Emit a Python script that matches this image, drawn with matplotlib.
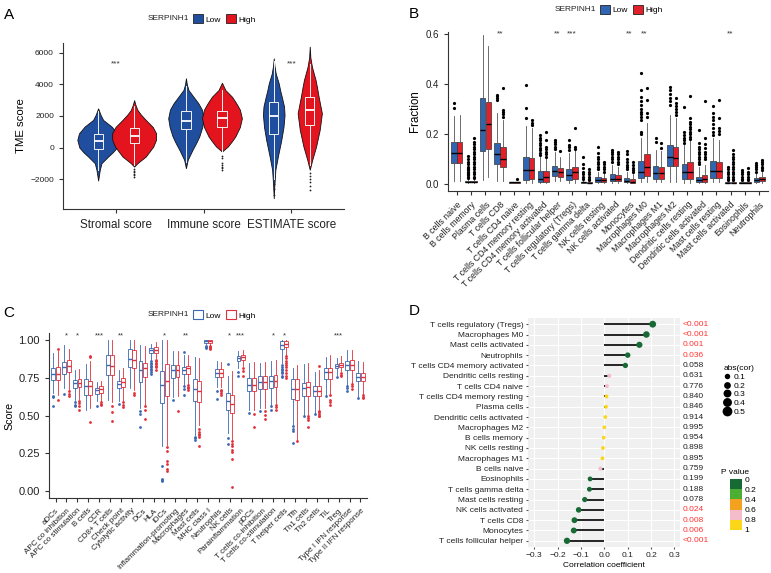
import numpy as np
import matplotlib
matplotlib.use("Agg")
import matplotlib.pyplot as plt
from matplotlib.patches import Patch
from matplotlib.lines import Line2D
from matplotlib.colors import ListedColormap, BoundaryNorm
from matplotlib.cm import ScalarMappable

plt.rcParams['font.family'] = ['Liberation Sans', 'DejaVu Sans']

# ============================================================
# DATA
# ============================================================

# --- panel A: TME scores (violin profiles + box summaries) ---
tme_cats = ['Stromal score', 'Immune score', 'ESTIMATE score']
tme_sig = ['***', '', '***']

# violin outlines: score value -> relative width
stromal_low_y = [-2080, -1400, -985, -565, -300, 0, 486, 900, 1325, 1750, 2060, 2480]
stromal_low_d = [0, 0.08, 0.16, 0.48, 0.7, 0.9, 1.0, 0.92, 0.65, 0.24, 0.12, 0]
stromal_high_y = [-1200, -985, -565, 63, 500, 908, 1300, 1750, 2100, 2380, 2700, 3000]
stromal_high_d = [0, 0.15, 0.53, 0.87, 1.0, 1.0, 0.85, 0.53, 0.3, 0.15, 0.06, 0]
immune_low_y = [-1300, -770, -140, 300, 700, 1300, 1855, 2400, 2800, 3220, 3640, 4000, 4380]
immune_low_d = [0, 0.1, 0.37, 0.58, 0.75, 0.92, 1.0, 0.9, 0.7, 0.42, 0.14, 0.05, 0]
immune_high_y = [-250, -140, 63, 400, 700, 1300, 1855, 2400, 2800, 3220, 3640, 4100]
immune_high_d = [0, 0.1, 0.29, 0.5, 0.67, 0.9, 1.0, 0.9, 0.72, 0.5, 0.17, 0]
estimate_low_y = [-3200, -2450, -1400, -565, 486, 1300, 2060, 2600, 3220, 3600, 4060, 4690, 5200, 5640]
estimate_low_d = [0, 0.05, 0.15, 0.38, 0.7, 0.9, 1.0, 0.95, 0.74, 0.6, 0.46, 0.18, 0.06, 0]
estimate_high_y = [-1400, -780, 63, 1120, 2170, 3220, 3800, 4270, 5110, 5700, 6380]
estimate_high_d = [0, 0.2, 0.52, 0.82, 1.0, 0.73, 0.6, 0.48, 0.18, 0.05, 0]

# box summaries: (whislo, q1, median, q3, whishi, outliers)
tme_low_box = [(-1400, -100, 420, 863, 2300, []),
               (-900, 1160, 1665, 2315, 3900, []),
               (-2000, 863, 2000, 2900, 5500, [-2300, -2600, -3000])]
tme_high_box = [(-1100, 270, 720, 1220, 2600, [-1350, -1450, -1550, -1650, -1750, -1830]),
                (-250, 1290, 1855, 2315, 3650, [-535, -650, -1000, -1100, -1200, -1300, -1400]),
                (-1100, 1430, 2380, 3220, 5300, [-1620, -1800, -2000, -2200, -2400, -2670])]

# --- panel B: CIBERSORT fractions ---
cells_b = ['B cells naive', 'B cells memory', 'Plasma cells', 'T cells CD8', 'T cells CD4 naive',
           'T cells CD4 memory resting', 'T cells CD4 memory activated', 'T cells follicular helper',
           'T cells regulatory (Tregs)', 'T cells gamma delta', 'NK cells resting', 'NK cells activated',
           'Monocytes', 'Macrophages M0', 'Macrophages M1', 'Macrophages M2', 'Dendritic cells resting',
           'Dendritic cells activated', 'Mast cells resting', 'Mast cells activated', 'Eosinophils',
           'Neutrophils']
sig_b = ['', '', '', '**', '', '', '', '**', '***', '', '', '', '**', '**', '', '', '', '', '', '**', '', '']

frac_low = [
    (0.013, 0.086, 0.126, 0.167, 0.274, [0.303, 0.325]),
    (0.005, 0.007, 0.009, 0.013, 0.02, [0.025, 0.03, 0.035, 0.04, 0.045, 0.05, 0.055, 0.06, 0.065, 0.07, 0.08, 0.09, 0.1, 0.114]),
    (0.016, 0.133, 0.215, 0.345, 0.595, []),
    (0.013, 0.08, 0.121, 0.165, 0.283, [0.336, 0.342, 0.35, 0.356]),
    (0.005, 0.006, 0.007, 0.008, 0.01, []),
    (0.005, 0.017, 0.056, 0.109, 0.232, [0.265, 0.303, 0.396]),
    (0.005, 0.01, 0.02, 0.054, 0.11, [0.115, 0.125, 0.135, 0.145, 0.155, 0.165, 0.175, 0.185, 0.197]),
    (0.013, 0.033, 0.054, 0.074, 0.13, [0.14, 0.15, 0.16, 0.168, 0.177]),
    (0.005, 0.015, 0.037, 0.06, 0.124, [0.137, 0.147, 0.157, 0.177]),
    (0.005, 0.006, 0.008, 0.01, 0.015, [0.02, 0.03, 0.04, 0.05, 0.065, 0.08, 0.108]),
    (0.005, 0.008, 0.016, 0.027, 0.05, [0.06, 0.07, 0.08, 0.09, 0.1, 0.11, 0.125, 0.149]),
    (0.005, 0.011, 0.021, 0.04, 0.077, [0.09, 0.1, 0.11, 0.12, 0.128, 0.137]),
    (0.005, 0.008, 0.013, 0.024, 0.05, [0.06, 0.07, 0.077, 0.09, 0.1, 0.12, 0.133]),
    (0.01, 0.024, 0.05, 0.094, 0.183, [0.2, 0.21, 0.256, 0.27, 0.28, 0.29, 0.3, 0.315, 0.33, 0.349, 0.376, 0.445]),
    (0.01, 0.021, 0.046, 0.072, 0.137, [0.167, 0.186]),
    (0.01, 0.073, 0.11, 0.157, 0.276, [0.316, 0.33, 0.345, 0.36, 0.375, 0.389]),
    (0.005, 0.021, 0.049, 0.08, 0.157, [0.165, 0.175, 0.185, 0.195, 0.21, 0.309]),
    (0.005, 0.008, 0.016, 0.03, 0.07, [0.08, 0.09, 0.1, 0.11, 0.12, 0.13, 0.14, 0.15, 0.163, 0.216]),
    (0.01, 0.024, 0.053, 0.093, 0.183, [0.197, 0.21, 0.225, 0.24, 0.255, 0.27, 0.285, 0.31]),
    (0.003, 0.004, 0.005, 0.007, 0.01, [0.015, 0.02, 0.03, 0.04, 0.05, 0.06, 0.07]),
    (0.003, 0.004, 0.005, 0.007, 0.01, [0.015, 0.02, 0.03, 0.04, 0.05, 0.057]),
    (0.005, 0.01, 0.017, 0.024, 0.045, [0.05, 0.06, 0.07, 0.077, 0.084]),
]
frac_high = [
    (0.013, 0.084, 0.126, 0.17, 0.276, []),
    (0.005, 0.007, 0.009, 0.013, 0.02, [0.025, 0.03, 0.04, 0.05, 0.06, 0.07, 0.08, 0.09, 0.1, 0.11, 0.12, 0.13, 0.14, 0.15, 0.16, 0.17, 0.186]),
    (0.027, 0.139, 0.24, 0.327, 0.552, []),
    (0.013, 0.07, 0.1, 0.15, 0.256, [0.27, 0.28, 0.29, 0.296, 0.382]),
    (0.005, 0.006, 0.007, 0.008, 0.01, [0.02]),
    (0.005, 0.021, 0.058, 0.104, 0.223, [0.236, 0.246, 0.256]),
    (0.005, 0.01, 0.027, 0.054, 0.104, [0.11, 0.12, 0.13, 0.14, 0.15, 0.175, 0.21]),
    (0.013, 0.03, 0.049, 0.064, 0.11, [0.133]),
    (0.005, 0.021, 0.049, 0.07, 0.135, [0.14, 0.15, 0.223]),
    (0.003, 0.004, 0.005, 0.007, 0.01, [0.015, 0.02, 0.03, 0.04, 0.05, 0.061]),
    (0.005, 0.009, 0.016, 0.024, 0.045, [0.05, 0.06, 0.07, 0.08, 0.09]),
    (0.005, 0.011, 0.021, 0.035, 0.07, [0.08, 0.09, 0.1, 0.11, 0.12, 0.13]),
    (0.003, 0.005, 0.01, 0.02, 0.04, [0.05, 0.057, 0.065, 0.075, 0.09]),
    (0.01, 0.031, 0.07, 0.121, 0.243, [0.27, 0.283, 0.336, 0.382]),
    (0.01, 0.021, 0.046, 0.069, 0.133, [0.143, 0.163]),
    (0.01, 0.073, 0.104, 0.147, 0.263, [0.276, 0.29, 0.3, 0.31, 0.325, 0.343]),
    (0.005, 0.021, 0.049, 0.09, 0.175, [0.18, 0.19, 0.2, 0.21, 0.22, 0.23, 0.24, 0.25, 0.263, 0.353]),
    (0.005, 0.008, 0.02, 0.035, 0.075, [0.1, 0.11, 0.12, 0.13, 0.145, 0.16, 0.183, 0.33]),
    (0.01, 0.024, 0.053, 0.088, 0.177, [0.2, 0.212, 0.223, 0.263, 0.336]),
    (0.003, 0.004, 0.005, 0.007, 0.01, [0.015, 0.02, 0.03, 0.04, 0.05, 0.06, 0.07, 0.08, 0.09, 0.1, 0.11, 0.12, 0.137]),
    (0.003, 0.004, 0.005, 0.007, 0.01, [0.015, 0.02, 0.03, 0.04, 0.05, 0.066]),
    (0.005, 0.012, 0.021, 0.028, 0.05, [0.055, 0.064, 0.07, 0.08, 0.09, 0.097]),
]

# --- panel C: ssGSEA immune signatures ---
sets_c = ['aDCs', 'APC co inhibition', 'APC co stimulation', 'B cells', 'CCR', 'CD8+ T cells',
          'Check point', 'Cytolytic activity', 'DCs', 'HLA', 'iDCs', 'Inflammation-promoting',
          'Macrophages', 'Mast cells', 'MHC class I', 'Neutrophils', 'NK cells', 'Parainflammation',
          'pDCs', 'T cells co-inhibition', 'T cells co-stimulation', 'T helper cells', 'Tfh',
          'Th1 cells', 'Th2 cells', 'TIL', 'Treg', 'Type I IFN response', 'Type II IFN response']
sig_c = ['', '*', '*', '', '***', '', '**', '', '', '', '*', '', '**', '', '', '', '*', '***',
         '', '', '*', '*', '', '', '', '', '***', '', '']

score_low = [
    (0.65, 0.738, 0.778, 0.816, 0.916, [0.632, 0.621, 0.566]),
    (0.683, 0.776, 0.82, 0.856, 0.967, [0.643]),
    (0.605, 0.683, 0.716, 0.738, 0.8, [0.59, 0.572, 0.561]),
    (0.539, 0.639, 0.699, 0.745, 0.843, []),
    (0.594, 0.645, 0.668, 0.683, 0.723, [0.566]),
    (0.605, 0.767, 0.838, 0.9, 1.0, []),
    (0.599, 0.683, 0.712, 0.732, 0.805, [0.577]),
    (0.683, 0.82, 0.878, 0.943, 1.0, []),
    (0.55, 0.723, 0.8, 0.86, 0.971, [0.528, 0.51, 0.421]),
    (0.872, 0.916, 0.938, 0.949, 0.978, [0.86, 0.85, 0.84, 0.83, 0.82, 0.81, 0.8, 0.79, 0.776]),
    (0.295, 0.583, 0.705, 0.794, 1.0, [0.162, 0.08, 0.07, 0.062]),
    (0.621, 0.75, 0.805, 0.838, 0.927, [0.605]),
    (0.701, 0.776, 0.8, 0.823, 0.9, [0.694, 0.679, 0.634, 0.92]),
    (0.373, 0.594, 0.676, 0.743, 0.889, [0.36, 0.35, 0.34]),
    (0.975, 0.985, 0.995, 1.0, 1.0, [0.965, 0.958, 0.95]),
    (0.688, 0.754, 0.783, 0.809, 0.86, [0.661, 0.612]),
    (0.384, 0.539, 0.599, 0.65, 0.76, [0.35, 0.313, 0.843]),
    (0.816, 0.86, 0.883, 0.898, 0.927, [0.787, 0.761]),
    (0.539, 0.661, 0.705, 0.75, 0.849, [0.517]),
    (0.55, 0.679, 0.723, 0.761, 0.849, [0.532]),
    (0.572, 0.683, 0.727, 0.761, 0.86, [0.566, 0.539]),
    (0.849, 0.943, 0.971, 0.994, 1.0, [0.838, 0.825, 0.81, 0.8, 0.79, 0.78, 0.765, 0.754]),
    (0.439, 0.612, 0.676, 0.743, 0.816, [0.428, 0.41, 0.395, 0.317]),
    (0.506, 0.632, 0.683, 0.716, 0.843, [0.499]),
    (0.517, 0.628, 0.661, 0.694, 0.789, [0.51]),
    (0.639, 0.745, 0.787, 0.816, 0.887, [0.632]),
    (0.772, 0.816, 0.832, 0.843, 0.883, [0.754]),
    (0.705, 0.8, 0.834, 0.865, 0.938, [0.694, 0.683, 0.661]),
    (0.621, 0.727, 0.756, 0.783, 0.86, [0.616]),
]
score_high = [
    (0.639, 0.738, 0.778, 0.823, 0.927, [0.945, 0.605]),
    (0.672, 0.79, 0.832, 0.869, 0.945, [0.661, 0.645, 0.632]),
    (0.612, 0.688, 0.716, 0.745, 0.81, [0.599, 0.583, 0.561, 0.539]),
    (0.55, 0.639, 0.699, 0.732, 0.861, [0.898, 0.89, 0.455]),
    (0.594, 0.65, 0.676, 0.694, 0.727, [0.59, 0.577, 0.568]),
    (0.588, 0.767, 0.832, 0.9, 1.0, [0.561, 0.521, 0.461]),
    (0.599, 0.69, 0.723, 0.75, 0.816, [0.59, 0.572, 0.555]),
    (0.672, 0.816, 0.869, 0.938, 1.0, [0.65, 0.634]),
    (0.572, 0.756, 0.816, 0.849, 0.96, [0.566, 0.539, 0.477]),
    (0.883, 0.916, 0.938, 0.954, 0.99, [0.87, 0.86, 0.85, 0.84, 0.83, 0.82, 0.805]),
    (0.306, 0.632, 0.727, 0.843, 1.0, [0.288, 0.266, 0.2, 0.177, 0.144, 0.129]),
    (0.628, 0.754, 0.8, 0.838, 0.927, [0.532]),
    (0.705, 0.778, 0.816, 0.832, 0.9, [0.7, 0.69, 0.68, 0.672]),
    (0.44, 0.59, 0.661, 0.727, 0.88, [0.41, 0.39, 0.38, 0.37, 0.36, 0.3]),
    (0.97, 0.982, 0.993, 1.0, 1.0, [0.96, 0.955, 0.948, 0.943]),
    (0.688, 0.754, 0.783, 0.809, 0.856, [0.672, 0.66, 0.65, 0.639]),
    (0.34, 0.517, 0.579, 0.639, 0.794, [0.328, 0.313, 0.295, 0.27, 0.257, 0.21, 0.022]),
    (0.827, 0.867, 0.889, 0.905, 0.938, [0.816, 0.794, 0.761]),
    (0.539, 0.661, 0.705, 0.75, 0.856, [0.51, 0.424]),
    (0.55, 0.679, 0.723, 0.761, 0.856, [0.532, 0.506, 0.479]),
    (0.583, 0.688, 0.732, 0.772, 0.872, [0.57, 0.555, 0.539]),
    (0.905, 0.956, 0.978, 0.998, 1.0, [0.894, 0.88, 0.865, 0.85, 0.835, 0.82, 0.8, 0.78, 0.765, 0.75]),
    (0.339, 0.605, 0.676, 0.745, 0.838, [0.328]),
    (0.506, 0.632, 0.688, 0.723, 0.849, [0.494, 0.483, 0.472, 0.421]),
    (0.539, 0.628, 0.661, 0.694, 0.8, [0.532, 0.52, 0.51, 0.5, 0.494, 0.832]),
    (0.643, 0.745, 0.787, 0.816, 0.9, [0.639, 0.605, 0.59, 0.572]),
    (0.794, 0.821, 0.838, 0.849, 0.894, [0.783, 0.772, 0.761]),
    (0.716, 0.8, 0.838, 0.872, 0.938, [0.71, 0.695, 0.676]),
    (0.639, 0.727, 0.758, 0.783, 0.856, [0.634, 0.625, 0.616]),
]

# --- panel D: correlation lollipop (top row first) ---
cells_d = ['T cells regulatory (Tregs)', 'Macrophages M0', 'Mast cells activated', 'Neutrophils',
           'T cells CD4 memory activated', 'Dendritic cells resting', 'T cells CD4 naive',
           'T cells CD4 memory resting', 'Plasma cells', 'Dendritic cells activated', 'Macrophages M2',
           'B cells memory', 'NK cells resting', 'Macrophages M1', 'B cells naive', 'Eosinophils',
           'T cells gamma delta', 'Mast cells resting', 'NK cells activated', 'T cells CD8',
           'Monocytes', 'T cells follicular helper']
cor_d = [0.207, 0.18, 0.15, 0.1, 0.09, 0.021, 0.011, 0.009, 0.007, 0.004, 0.0,
         -0.003, -0.006, -0.008, -0.017, -0.061, -0.064, -0.084, -0.11, -0.128, -0.131, -0.16]
p_text_d = ['<0.001', '<0.001', '0.001', '0.036', '0.058', '0.631', '0.776', '0.840', '0.846',
            '0.914', '0.995', '0.954', '0.898', '0.895', '0.759', '0.199', '0.188', '0.078',
            '0.024', '0.008', '0.006', '<0.001']
p_val_d = [0.0005, 0.0005, 0.001, 0.036, 0.058, 0.631, 0.776, 0.840, 0.846, 0.914, 0.995,
           0.954, 0.898, 0.895, 0.759, 0.199, 0.188, 0.078, 0.024, 0.008, 0.006, 0.0005]
p_bins = [0, 0.2, 0.4, 0.6, 0.8, 1]
size_breaks = [0.1, 0.2, 0.3, 0.4, 0.5]

# ============================================================
# STYLE / LAYOUT
# ============================================================

BLUE_A, RED_A = '#1f4e9e', '#e3141d'
BLUE_B, RED_B = '#2f65b2', '#e2202a'
BLUE_C, RED_C = '#3a68b3', '#e0303a'
P_COLORS = ['#186a35', '#4daf32', '#f4a11f', '#f5bccb', '#fcd619']
AXC = '#333333'

W, H = 771, 573
fig = plt.figure(figsize=(W / 100, H / 100), dpi=100)


def px_axes(left, top, right, bottom):
    return fig.add_axes([left / W, 1 - bottom / H, (right - left) / W, (bottom - top) / H])


def style_classic(ax, ytick_size):
    for s in ['top', 'right']:
        ax.spines[s].set_visible(False)
    for s in ['left', 'bottom']:
        ax.spines[s].set_color(AXC)
        ax.spines[s].set_linewidth(0.8)
    ax.tick_params(colors=AXC, length=3, width=0.8, labelsize=ytick_size, labelcolor='#222222')


def to_stats(rows):
    return [dict(whislo=lo, q1=q1, med=med, q3=q3, whishi=hi, fliers=fl) for lo, q1, med, q3, hi, fl in rows]


def group_legend(x, y, handles, labels):
    fig.text(x / W, 1 - y / H, 'SERPINH1', fontsize=6, va='center', ha='left', color='#222222')
    fig.legend(handles, labels, ncol=2, loc='center left', bbox_to_anchor=((x + 45) / W, 1 - y / H),
               frameon=False, fontsize=6, handlelength=1.2, handleheight=1.2, handletextpad=0.3,
               columnspacing=0.6, borderpad=0, borderaxespad=0)


# ============================================================
# PANEL A: violins
# ============================================================

axA = px_axes(63, 43, 344, 209)
xa = np.arange(1, len(tme_cats) + 1)
low_prof = [(stromal_low_y, stromal_low_d), (immune_low_y, immune_low_d), (estimate_low_y, estimate_low_d)]
high_prof = [(stromal_high_y, stromal_high_d), (immune_high_y, immune_high_d), (estimate_high_y, estimate_high_d)]
low_halfw = [0.237, 0.202, 0.123]
high_halfw = [0.25, 0.227, 0.138]

for prof, halfw, off, col in [(low_prof, low_halfw, -0.2, BLUE_A), (high_prof, high_halfw, 0.21, RED_A)]:
    vp = [dict(coords=np.array(yv), vals=np.array(dv), mean=0, median=0, min=yv[0], max=yv[-1])
          for yv, dv in prof]
    parts = axA.violin(vp, positions=xa + off, widths=[2 * h for h in halfw],
                       showmeans=False, showextrema=False, showmedians=False)
    for body in parts['bodies']:
        body.set_facecolor(col)
        body.set_edgecolor('#111111')
        body.set_linewidth(0.6)
        body.set_alpha(1)

for rows, off in [(tme_low_box, -0.2), (tme_high_box, 0.21)]:
    axA.bxp(to_stats(rows), positions=xa + off, widths=0.105, patch_artist=True, showcaps=False,
            boxprops=dict(facecolor='none', edgecolor='#f2f2f2', linewidth=0.7),
            whiskerprops=dict(color='#f2f2f2', linewidth=0.7),
            medianprops=dict(color='white', linewidth=1.3),
            flierprops=dict(marker='o', markersize=1.3, markerfacecolor='#222222',
                            markeredgewidth=0))

for x, s in zip(xa, tme_sig):
    axA.text(x, 5280, s, ha='center', va='center', fontsize=6, color='#333333')

axA.set_xlim(0.4, 3.6)
axA.set_ylim(-3880, 6610)
axA.set_yticks([-2000, 0, 2000, 4000, 6000])
axA.set_xticks(xa)
axA.set_xticklabels(tme_cats, fontsize=8.4)
axA.set_ylabel('TME score', fontsize=8.2, labelpad=3)
style_classic(axA, 6)
axA.tick_params(axis='x', labelsize=8.4, pad=4)
group_legend(148, 19, [Patch(facecolor=BLUE_A, edgecolor='#222222', lw=0.6),
                       Patch(facecolor=RED_A, edgecolor='#222222', lw=0.6)], ['Low', 'High'])
fig.text(9 / W, 1 - 15 / H, 'A', fontsize=11, ha='center', va='center')

# ============================================================
# PANEL B: CIBERSORT boxplots
# ============================================================

axB = px_axes(448, 32, 768, 191)
xb = np.arange(1, len(cells_b) + 1)
for rows, off, col in [(frac_low, -0.2, BLUE_B), (frac_high, 0.2, RED_B)]:
    axB.bxp(to_stats(rows), positions=xb + off, widths=0.38, patch_artist=True, showcaps=False,
            boxprops=dict(facecolor=col, edgecolor='#333333', linewidth=0.5),
            whiskerprops=dict(color='#555555', linewidth=0.6),
            medianprops=dict(color='black', linewidth=1.0),
            flierprops=dict(marker='o', markersize=2.3, markerfacecolor='black', markeredgewidth=0))
for x, s in zip(xb, sig_b):
    axB.text(x, 0.598, s, ha='center', va='center', fontsize=6, color='#333333')
axB.set_xlim(0.4, len(cells_b) + 0.6)
axB.set_ylim(-0.027, 0.607)
axB.set_yticks([0, 0.2, 0.4, 0.6])
axB.set_yticklabels(['0.0', '0.2', '0.4', '0.6'])
axB.set_xticks(xb)
axB.set_xticklabels(cells_b, rotation=45, ha='right', rotation_mode='anchor', fontsize=6.3)
axB.set_ylabel('Fraction', fontsize=8.3, labelpad=3)
style_classic(axB, 7)
axB.tick_params(axis='x', labelsize=6.3)
group_legend(555, 9.5, [Patch(facecolor=BLUE_B, edgecolor='#222222', lw=0.6),
                        Patch(facecolor=RED_B, edgecolor='#222222', lw=0.6)], ['Low', 'High'])
fig.text(414 / W, 1 - 14 / H, 'B', fontsize=11, ha='center', va='center')

# ============================================================
# PANEL C: ssGSEA boxplots
# ============================================================

axC = px_axes(49, 333, 367, 498)
xc = np.arange(1, len(sets_c) + 1)
for rows, off, col in [(score_low, -0.2, BLUE_C), (score_high, 0.2, RED_C)]:
    axC.bxp(to_stats(rows), positions=xc + off, widths=0.36, patch_artist=True, showcaps=False,
            boxprops=dict(facecolor='white', edgecolor=col, linewidth=0.6),
            whiskerprops=dict(color=col, linewidth=0.6),
            medianprops=dict(color=col, linewidth=1.0),
            flierprops=dict(marker='o', markersize=2.0, markerfacecolor=col, markeredgewidth=0))
for x, s in zip(xc, sig_c):
    axC.text(x, 1.03, s, ha='center', va='center', fontsize=5.5, color='#333333')
axC.set_xlim(0.4, len(sets_c) + 0.6)
axC.set_ylim(-0.049, 1.049)
axC.set_yticks([0, 0.25, 0.5, 0.75, 1.0])
axC.set_yticklabels(['0.00', '0.25', '0.50', '0.75', '1.00'])
axC.set_xticks(xc)
axC.set_xticklabels(sets_c, rotation=45, ha='right', rotation_mode='anchor', fontsize=5.8)
axC.set_ylabel('Score', fontsize=7.7, labelpad=3)
style_classic(axC, 8)
axC.tick_params(axis='x', labelsize=5.8)
group_legend(148, 315, [Patch(facecolor='white', edgecolor=BLUE_C, lw=0.8),
                        Patch(facecolor='white', edgecolor=RED_C, lw=0.8)], ['Low', 'High'])
fig.text(9 / W, 1 - 313 / H, 'C', fontsize=11, ha='center', va='center')

# ============================================================
# PANEL D: lollipop correlation
# ============================================================

axD = px_axes(528, 318, 680, 547)
n = len(cells_d)
yd = np.arange(n, 0, -1)
cmap = ListedColormap(P_COLORS)
norm = BoundaryNorm(p_bins, cmap.N)


def dot_size(v):
    return 7 + 85 * abs(v)


axD.hlines(yd, 0, cor_d, color='black', linewidth=1.2, zorder=2)
axD.scatter(cor_d, yd, s=[dot_size(v) for v in cor_d], c=p_val_d, cmap=cmap, norm=norm,
            edgecolors='none', zorder=3)
for y, txt, p in zip(yd, p_text_d, p_val_d):
    axD.text(1.02, y, txt, transform=axD.get_yaxis_transform(), fontsize=6,
             color='#ff3333' if p < 0.05 else '#222222', va='center', ha='left')

axD.set_facecolor('#f0f0f0')
axD.grid(True, color='white', linewidth=0.8)
axD.set_axisbelow(True)
for s in axD.spines.values():
    s.set_visible(False)
axD.set_xlim(-0.327, 0.324)
axD.set_ylim(0.4, n + 0.6)
axD.set_xticks([-0.3, -0.2, -0.1, 0, 0.1, 0.2, 0.3])
axD.set_xticklabels(['\u22120.3', '\u22120.2', '\u22120.1', '0.0', '0.1', '0.2', '0.3'])
axD.set_yticks(yd)
axD.set_yticklabels(cells_d)
axD.tick_params(labelsize=6, length=1.5, color='#555555', labelcolor='#222222', pad=2)
axD.set_xlabel('Correlation coefficient', fontsize=6, labelpad=2)
fig.text(414 / W, 1 - 311 / H, 'D', fontsize=11, ha='center', va='center')

# size legend
size_handles = [Line2D([], [], marker='o', ls='', color='black', markeredgewidth=0,
                       markersize=np.sqrt(dot_size(v))) for v in size_breaks]
fig.legend(size_handles, [str(v) for v in size_breaks], title='abs(cor)', loc='upper left',
           bbox_to_anchor=(719 / W, 1 - 361 / H), frameon=False, fontsize=6, title_fontsize=6,
           labelspacing=0.1, handletextpad=0.2, handlelength=1.0, borderpad=0, alignment='left')

# p value colour key
cax = px_axes(730, 479, 742, 530)
cb = fig.colorbar(ScalarMappable(norm=norm, cmap=cmap), cax=cax, ticks=p_bins)
cax.invert_yaxis()
cb.outline.set_visible(False)
cb.ax.set_yticklabels(['0', '0.2', '0.4', '0.6', '0.8', '1'])
cb.ax.tick_params(labelsize=6, length=0, pad=2)
fig.text(721 / W, 1 - 472 / H, 'P value', fontsize=6, va='center', ha='left')

fig.savefig('out.png', dpi=100)
